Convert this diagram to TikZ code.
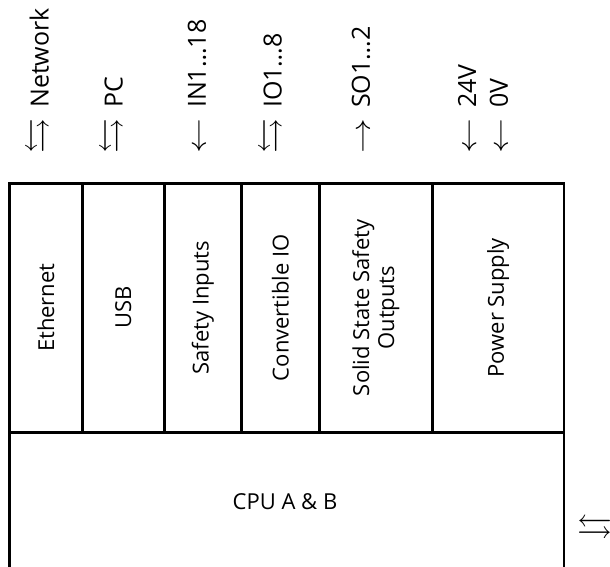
\documentclass[tikz,border=0pt]{standalone}
\usepackage{amssymb}
\usepackage{fontspec}
\setmainfont{Open Sans}
\newcommand{\biarrow}{\scalebox{1.4}[1.4]{$\leftrightarrows$}}
\newcommand{\larrow}{\scalebox{1.4}[1.1]{$\leftarrow$}}
\newcommand{\rarrow}{\scalebox{1.4}[1.1]{$\rightarrow$}}
\begin{document}
\begin{tikzpicture}[x=1pt,y=-1pt,
  module/.style={draw, line width=2.5pt, anchor=north west, inner sep=0pt},
  mtext/.style={rotate=90, font=\fontsize{22}{25}\selectfont, align=center},
  sig/.style={rotate=90, anchor=west, inner sep=0pt, font=\fontsize{25}{28}\selectfont}]
\clip (0,0) rectangle (610,567);
% modules
\node[module, minimum width=72.7pt, minimum height=249pt] (eth) at (8.3,182) {};
\node[module, minimum width=82pt, minimum height=249pt] (usb) at (81,182) {};
\node[module, minimum width=77pt, minimum height=249pt] (sin) at (163,182) {};
\node[module, minimum width=78pt, minimum height=249pt] (cio) at (240,182) {};
\node[module, minimum width=113pt, minimum height=249pt] (sso) at (318,182) {};
\node[module, minimum width=131.7pt, minimum height=249pt] (psu) at (431,182) {};
\node[module, minimum width=554.4pt, minimum height=200pt] (cpu) at (8.3,431) {};
% module texts
\node[mtext] (teth) at (eth.center) {Ethernet};
\node[mtext] (tusb) at (usb.center) {USB};
\node[mtext] (tsin) at (sin.center) {Safety Inputs};
\node[mtext] (tcio) at (cio.center) {Convertible IO};
\node[mtext] (tsso) at (sso.center) {Solid State Safety\\Outputs};
\node[mtext] (tpsu) at (psu.center) {Power Supply};
\node[font=\fontsize{22}{25}\selectfont] (tcpu) at (285,502) {CPU A \& B};
% signal labels
\node[sig] (lnet) at (40,154) {\biarrow\hspace{11pt}Network};
\node[sig] (lpc) at (114,154) {\biarrow\hspace{11pt}PC};
\node[sig] (lin) at (197,154) {\larrow\hspace{11pt}IN1…18};
\node[sig] (lio) at (273,154) {\biarrow\hspace{11pt}IO1…8};
\node[sig] (lso) at (361,154) {\rarrow\hspace{11pt}SO1…2};
\node[sig] (l24) at (467,154) {\larrow\hspace{11pt}24V};
\node[sig] (l0) at (499,154) {\larrow\hspace{11pt}0V};
\node[anchor=west, inner sep=0pt, font=\fontsize{25}{28}\selectfont] (lcip) at (577,530) {\biarrow};
\end{tikzpicture}
\end{document}
